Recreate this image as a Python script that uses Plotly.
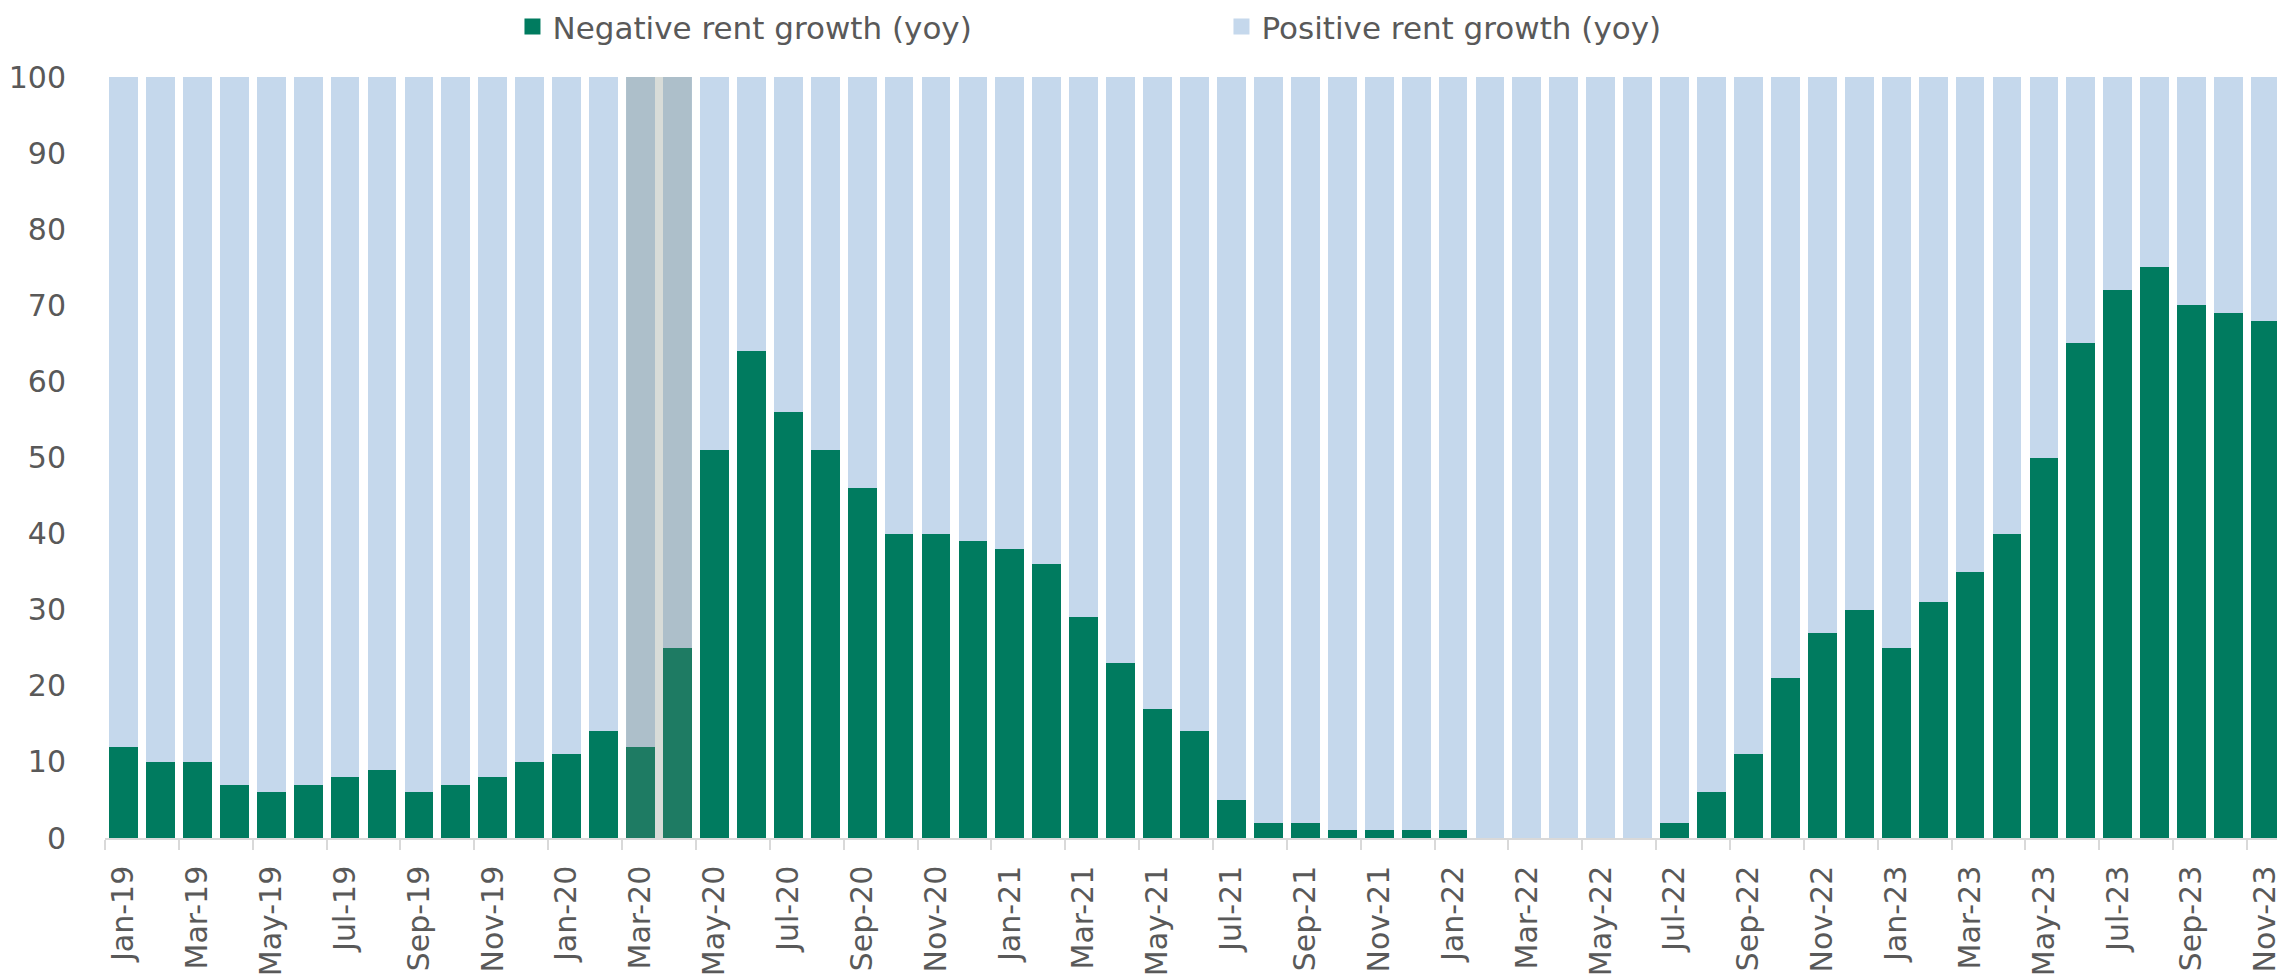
import plotly.graph_objects as go

months = [
    "Jan-19", "Feb-19", "Mar-19", "Apr-19", "May-19", "Jun-19", "Jul-19", "Aug-19", "Sep-19", "Oct-19", "Nov-19", "Dec-19",
    "Jan-20", "Feb-20", "Mar-20", "Apr-20", "May-20", "Jun-20", "Jul-20", "Aug-20", "Sep-20", "Oct-20", "Nov-20", "Dec-20",
    "Jan-21", "Feb-21", "Mar-21", "Apr-21", "May-21", "Jun-21", "Jul-21", "Aug-21", "Sep-21", "Oct-21", "Nov-21", "Dec-21",
    "Jan-22", "Feb-22", "Mar-22", "Apr-22", "May-22", "Jun-22", "Jul-22", "Aug-22", "Sep-22", "Oct-22", "Nov-22", "Dec-22",
    "Jan-23", "Feb-23", "Mar-23", "Apr-23", "May-23", "Jun-23", "Jul-23", "Aug-23", "Sep-23", "Oct-23", "Nov-23",
]

negative = [
    12, 10, 10, 7, 6, 7, 8, 9, 6, 7, 8, 10,
    11, 14, 12, 25, 51, 64, 56, 51, 46, 40, 40, 39,
    38, 36, 29, 23, 17, 14, 5, 2, 2, 1, 1, 1,
    1, 0, 0, 0, 0, 0, 2, 6, 11, 21, 27, 30,
    25, 31, 35, 40, 50, 65, 72, 75, 70, 69, 68,
]

positive = [
    88, 90, 90, 93, 94, 93, 92, 91, 94, 93, 92, 90,
    89, 86, 88, 75, 49, 36, 44, 49, 54, 60, 60, 61,
    62, 64, 71, 77, 83, 86, 95, 98, 98, 99, 99, 99,
    99, 100, 100, 100, 100, 100, 98, 94, 89, 79, 73, 70,
    75, 69, 65, 60, 50, 35, 28, 25, 30, 31, 32,
]

series_names = ["Negative rent growth (yoy)", "Positive rent growth (yoy)"]
shade_months = ["Mar-20", "Apr-20"]

GREEN = "#007B5F"
BLUE = "#C5D8EC"
TEXT = "#595959"
AXIS = "#D9D9D9"
BARGAP = 0.22

fig = go.Figure()
fig.add_trace(go.Bar(x=months, y=negative, name=series_names[0], showlegend=False,
                     marker=dict(color=GREEN, line=dict(width=0))))
fig.add_trace(go.Bar(x=months, y=positive, name=series_names[1], showlegend=False,
                     marker=dict(color=BLUE, line=dict(width=0))))
# legend entries with larger square swatches
for name, col in zip(series_names, [GREEN, BLUE]):
    fig.add_trace(go.Scatter(x=[months[0]], y=[None], mode="markers", name=name,
                             marker=dict(symbol="square", size=16, color=col),
                             hoverinfo="skip"))

i0 = months.index(shade_months[0])
i1 = months.index(shade_months[1])
half = (1 - BARGAP) / 2
fig.add_shape(type="rect", xref="x", yref="y",
              x0=i0 - half, x1=i1 + half, y0=0, y1=100,
              fillcolor="rgba(110,125,110,0.27)", line=dict(width=0), layer="above")

# page body has an 8px default margin, so the figure is sized to fit the window
fig.update_layout(
    width=2277, height=970,
    barmode="stack", bargap=BARGAP,
    paper_bgcolor="white", plot_bgcolor="white",
    margin=dict(l=97, r=1, t=69, b=140, autoexpand=False),
    font=dict(family="DejaVu Sans", color=TEXT, size=30),
    legend=dict(orientation="h", x=0.187, xanchor="left", y=1.066, yanchor="middle",
                font=dict(size=31, color=TEXT, family="DejaVu Sans"),
                entrywidth=664, traceorder="normal", bgcolor="rgba(0,0,0,0)",
                itemsizing="trace"),
    showlegend=True,
)

fig.update_xaxes(type="category", tickmode="linear", tick0=0, dtick=2,
                 range=[-0.5, len(months) - 0.5],
                 tickson="boundaries", ticks="outside", ticklen=10, tickwidth=1.5, tickcolor=AXIS,
                 showline=True, linecolor=AXIS, linewidth=1.5, showgrid=False, zeroline=False,
                 tickangle=-90, tickfont=dict(size=30, color=TEXT, family="DejaVu Sans"),
                 ticklabelstandoff=14)
fig.update_yaxes(range=[0, 100], tickmode="linear", tick0=0, dtick=10, showgrid=False, zeroline=False,
                 showline=False, ticks="", tickfont=dict(size=30, color=TEXT, family="DejaVu Sans"),
                 ticklabelstandoff=38)

fig.write_html("out.html")
